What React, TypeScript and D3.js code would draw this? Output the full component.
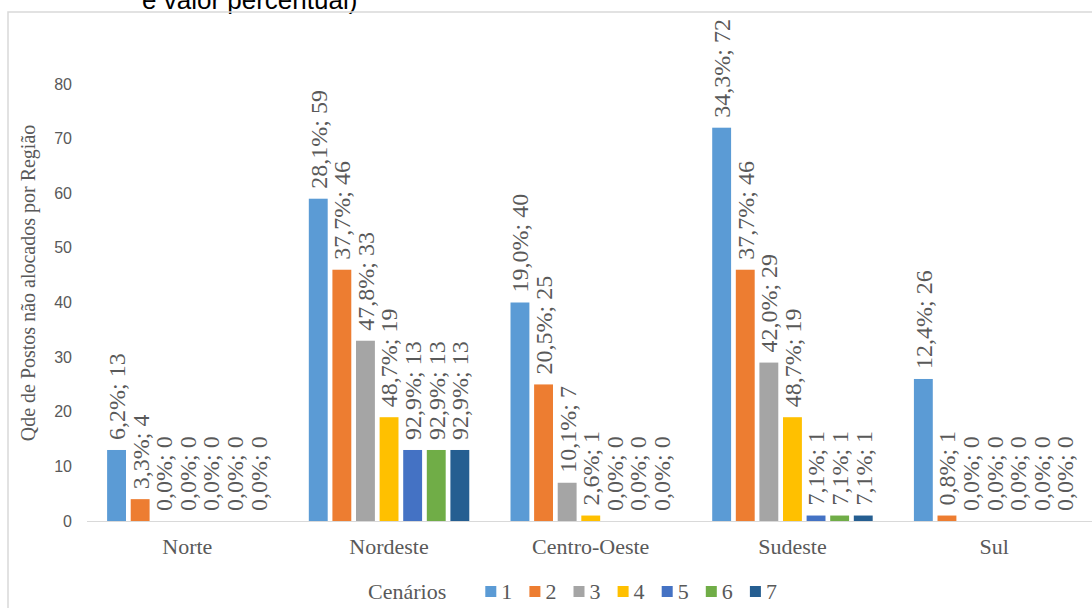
import React, { useRef, useEffect } from 'react';
import * as d3 from 'd3';

const regions = ['Norte', 'Nordeste', 'Centro-Oeste', 'Sudeste', 'Sul'];
const scenarios = ['1', '2', '3', '4', '5', '6', '7'];
// qtd de postos por cenario, na ordem das regioes
const values = [
  [13, 4, 0, 0, 0, 0, 0],
  [59, 46, 33, 19, 13, 13, 13],
  [40, 25, 7, 1, 0, 0, 0],
  [72, 46, 29, 19, 1, 1, 1],
  [26, 1, 0, 0, 0, 0, 0],
];
const percents = [
  ['6,2', '3,3', '0,0', '0,0', '0,0', '0,0', '0,0'],
  ['28,1', '37,7', '47,8', '48,7', '92,9', '92,9', '92,9'],
  ['19,0', '20,5', '10,1', '2,6', '0,0', '0,0', '0,0'],
  ['34,3', '37,7', '42,0', '48,7', '7,1', '7,1', '7,1'],
  ['12,4', '0,8', '0,0', '0,0', '0,0', '0,0', '0,0'],
];
const yTicks = [0, 10, 20, 30, 40, 50, 60, 70, 80];
const colors = ['#5B9BD5', '#ED7D31', '#A5A5A5', '#FFC000', '#4472C4', '#70AD47', '#255E91'];

function App() {
  const canvas = useRef<SVGSVGElement | null>(null);

  const width = 1092;
  const height = 608;
  const serif = '"Liberation Serif", "Times New Roman", serif';
  const sans = '"Liberation Sans", Arial, sans-serif';
  const grey = '#595959';

  useEffect(() => {
    const svg = d3.select(canvas.current);
    svg.selectAll('*').remove();

    // pedaço do titulo cortado em cima
    svg.append('text')
      .attr('x', 142)
      .attr('y', 9)
      .attr('font-family', sans)
      .attr('font-size', 26)
      .attr('fill', '#000')
      .text('e valor percentual)');

    // borda do grafico
    svg.append('rect')
      .attr('x', 8)
      .attr('y', 12)
      .attr('width', 1200)
      .attr('height', 700)
      .attr('fill', 'none')
      .attr('stroke', '#d9d9d9')
      .attr('stroke-width', 1.5);

    const x0 = d3.scaleBand()
      .domain(regions)
      .range([86.5, 1095]);

    const x1 = d3.scaleBand()
      .domain(scenarios)
      .range([x0.bandwidth() / 2 - 82.6, x0.bandwidth() / 2 + 82.6])
      .paddingInner(0.2)
      .paddingOuter(0.1);

    const y = d3.scaleLinear()
      .domain([0, 80])
      .range([521, 84]);

    // eixo y (so os numeros)
    svg.append('g')
      .selectAll('text')
      .data(yTicks)
      .enter()
      .append('text')
      .attr('x', 72)
      .attr('y', d => y(d))
      .attr('dy', '0.35em')
      .attr('text-anchor', 'end')
      .attr('font-family', sans)
      .attr('font-size', 16)
      .attr('fill', grey)
      .text(d => d);

    svg.append('text')
      .attr('transform', `translate(35, ${283}) rotate(-90)`)
      .attr('text-anchor', 'middle')
      .attr('font-family', serif)
      .attr('font-size', 20)
      .attr('fill', grey)
      .text('Qde de Postos não alocados por Região');

    const groups = svg.append('g')
      .selectAll('g')
      .data(regions)
      .enter()
      .append('g')
      .attr('transform', d => `translate(${x0(d)}, 0)`);

    groups.selectAll('rect')
      .data((r, i) => values[i].map((v, j) => ({ v, j })))
      .enter()
      .append('rect')
      .attr('x', d => x1(scenarios[d.j]) as number)
      .attr('y', d => y(d.v))
      .attr('width', x1.bandwidth())
      .attr('height', d => y(0) - y(d.v))
      .attr('fill', d => colors[d.j]);

    groups.selectAll('text.lbl')
      .data((r, i) => values[i].map((v, j) => ({ v, j, p: percents[i][j] })))
      .enter()
      .append('text')
      .attr('class', 'lbl')
      .attr('transform', d => {
        const cx = (x1(scenarios[d.j]) as number) + x1.bandwidth() / 2;
        return `translate(${cx}, ${y(d.v) - 10}) rotate(-90)`;
      })
      .attr('dy', '0.35em')
      .attr('font-family', serif)
      .attr('font-size', 24)
      .attr('fill', grey)
      .text(d => `${d.p}%; ${d.v}`);

    // linha do eixo x
    svg.append('line')
      .attr('x1', 87)
      .attr('x2', 1092)
      .attr('y1', y(0) + 0.5)
      .attr('y2', y(0) + 0.5)
      .attr('stroke', '#d9d9d9')
      .attr('stroke-width', 1);

    svg.append('g')
      .selectAll('text')
      .data(regions)
      .enter()
      .append('text')
      .attr('x', d => (x0(d) as number) + x0.bandwidth() / 2)
      .attr('y', 554)
      .attr('text-anchor', 'middle')
      .attr('font-family', serif)
      .attr('font-size', 22)
      .attr('fill', grey)
      .text(d => d);

    // legenda
    const legend = svg.append('g');
    legend.append('text')
      .attr('x', 368)
      .attr('y', 599)
      .attr('font-family', serif)
      .attr('font-size', 22)
      .attr('fill', grey)
      .text('Cenários');

    const items = legend.selectAll('g.item')
      .data(scenarios)
      .enter()
      .append('g')
      .attr('class', 'item')
      .attr('transform', (d, i) => `translate(${485.3 + i * 44.1}, 586)`);

    items.append('rect')
      .attr('width', 11)
      .attr('height', 11)
      .attr('fill', (d, i) => colors[i]);

    items.append('text')
      .attr('x', 16)
      .attr('y', 13)
      .attr('font-family', serif)
      .attr('font-size', 22)
      .attr('fill', grey)
      .text(d => d);
  });

  return (
    <svg
      ref={canvas}
      width={width}
      height={height}
      style={{ position: 'absolute', left: 0, top: 0, background: '#fff' }}
    />
  );
}

export default App;
